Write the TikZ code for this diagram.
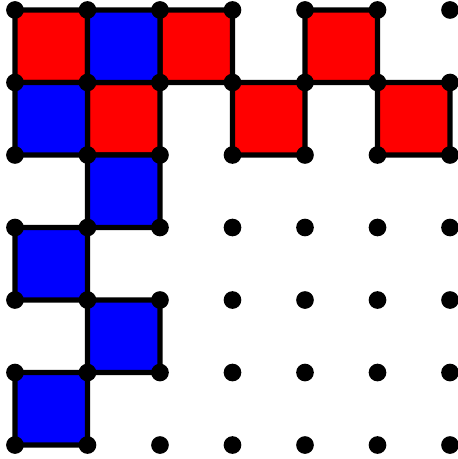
\documentclass[tikz,border=0pt]{standalone}
\usepackage{xcolor}
\usepackage{tikz}
\definecolor{tilered}{HTML}{FF0000}
\definecolor{tileblue}{HTML}{0000FF}

\begin{document}
\begin{tikzpicture}[x=1cm,y=1cm]
  \useasboundingbox (-0.2066,-0.1928) rectangle (6.102,6.1377);
  % red tiles
  \foreach \i/\j in {0/5,2/5,4/5,1/4,3/4,5/4}
    \filldraw[fill=tilered,draw=black,line width=2pt,rounded corners=1.5pt] (\i,\j) rectangle ++(1,1);
  % blue tiles
  \foreach \i/\j in {1/5,0/4,1/3,0/2,1/1,0/0}
    \filldraw[fill=tileblue,draw=black,line width=2pt,rounded corners=1.5pt] (\i,\j) rectangle ++(1,1);
  % grid points
  \foreach \i in {0,...,6}
    \foreach \j in {0,...,6}
      \fill[black] (\i,\j) circle[radius=0.122cm];
\end{tikzpicture}
\end{document}
